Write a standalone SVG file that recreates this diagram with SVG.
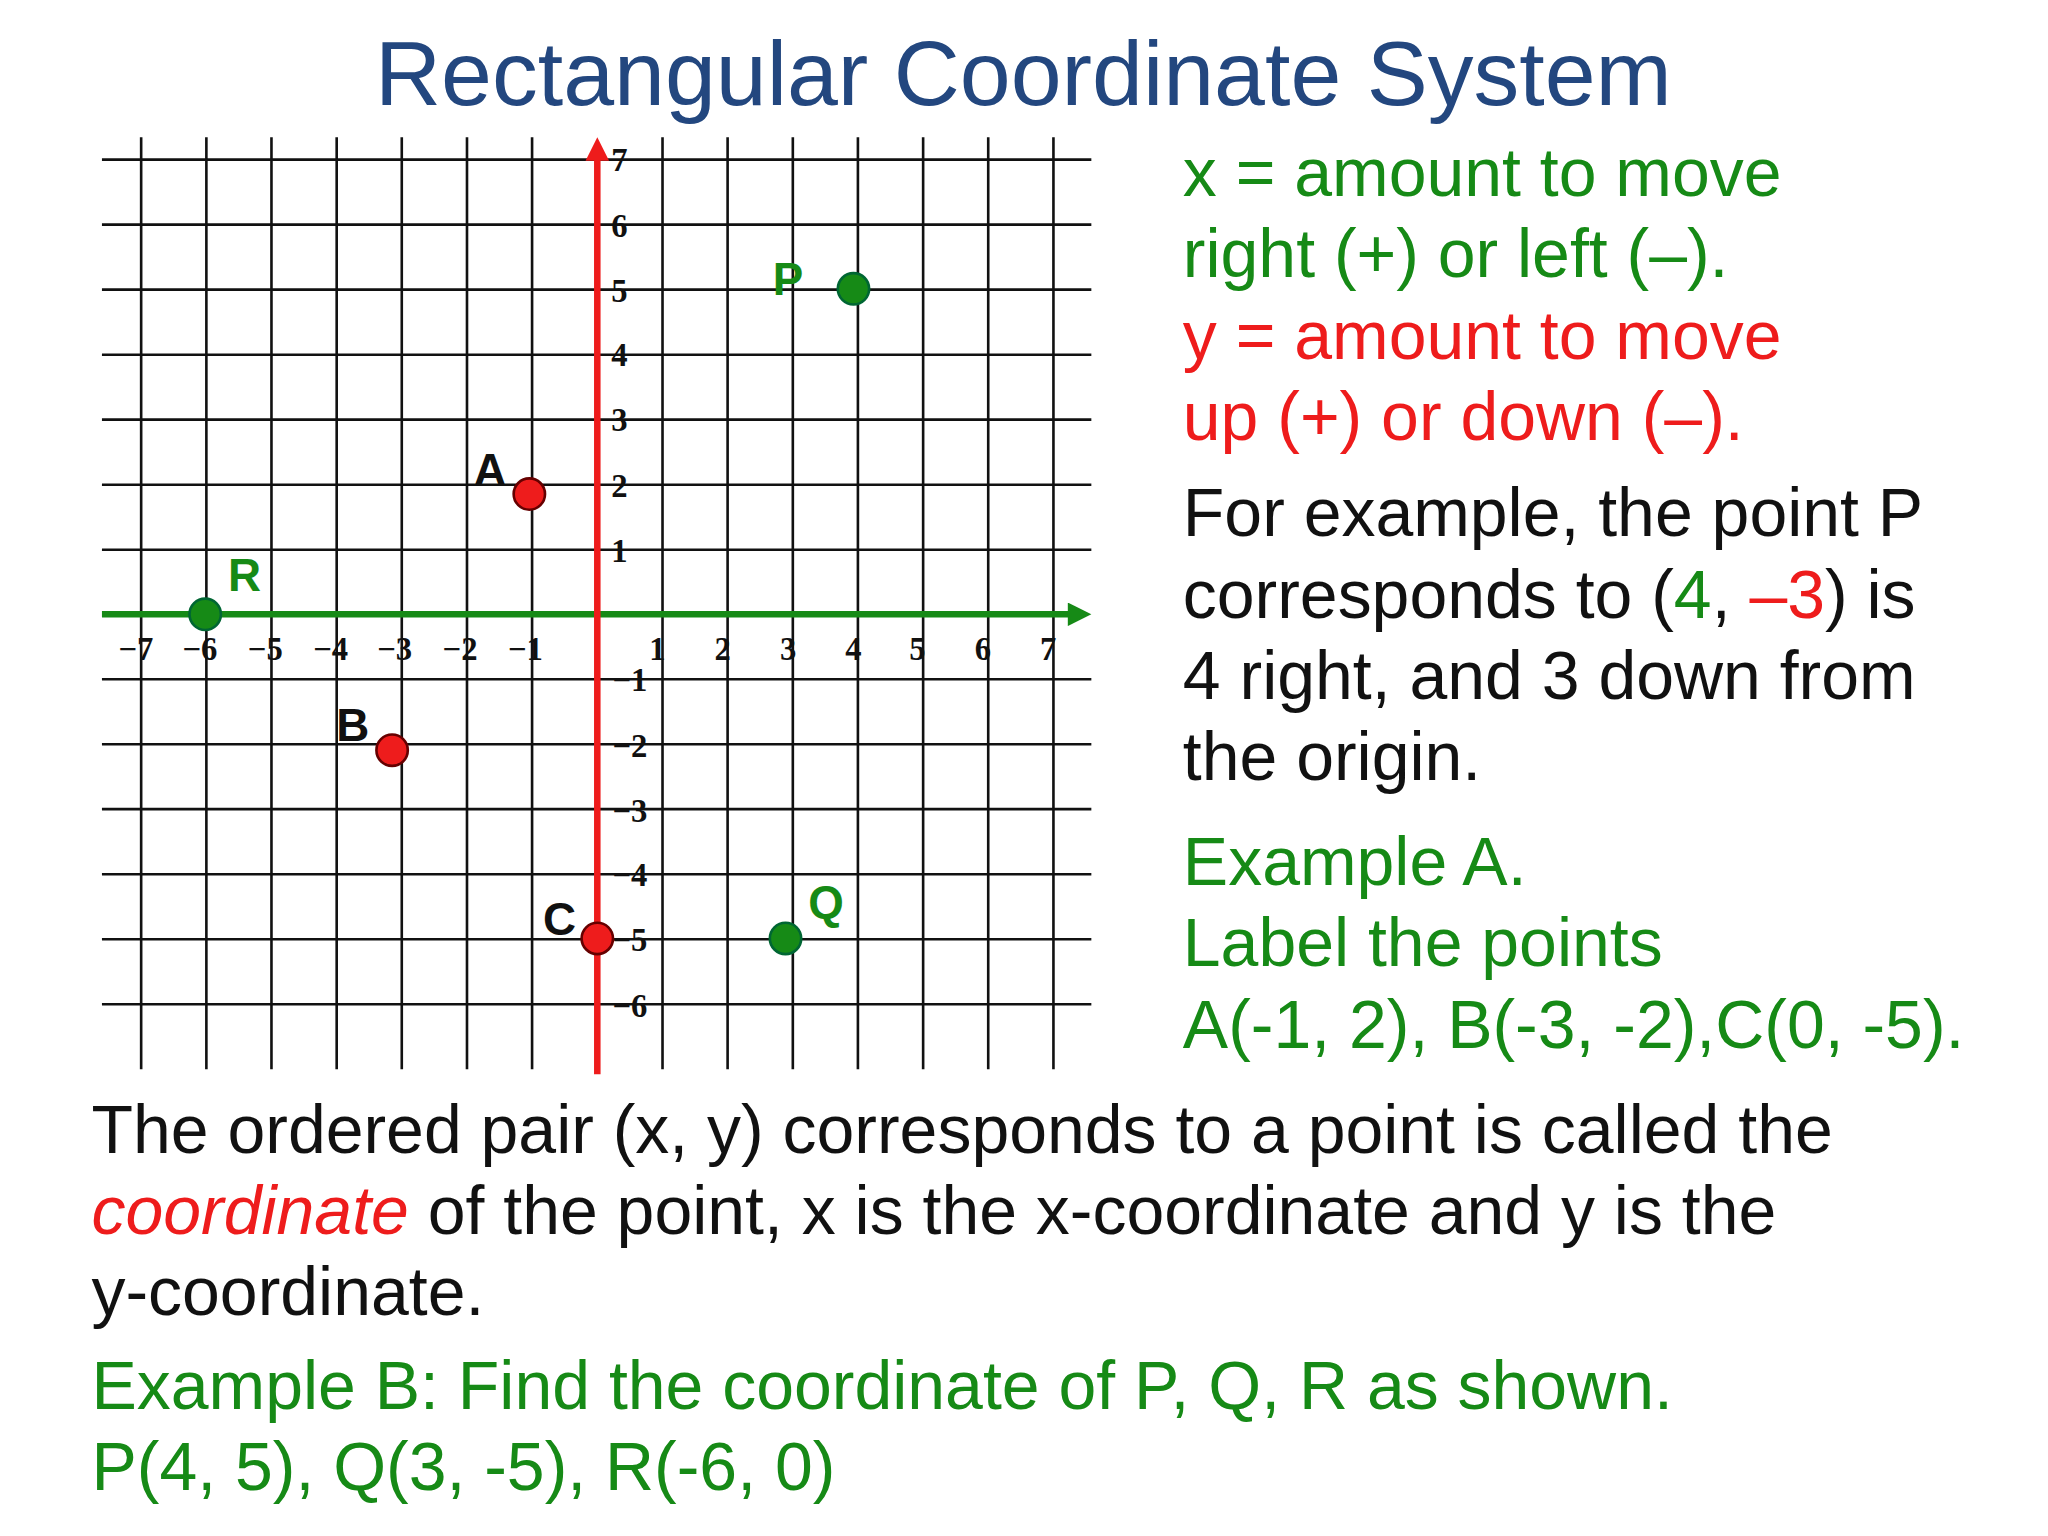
<svg xmlns="http://www.w3.org/2000/svg" width="2048" height="1536" viewBox="0 0 2048 1536">
<style>
.t{font-family:"Liberation Sans",Arial,sans-serif}
.g{fill:#168a16}.r{fill:#ee1c1c}.k{fill:#111}
.grid line{stroke:#111;stroke-width:2}
.tick{font-family:"Liberation Serif",serif;font-weight:bold;font-size:25px;fill:#111;text-anchor:middle}
.lbl{font-family:"Liberation Sans",Arial,sans-serif;font-weight:bold;font-size:35px}
.body{font-size:52px}
</style>
<defs>
<marker id="arR" viewBox="0 0 10 10" refX="5" refY="5" markerWidth="18" markerHeight="20" orient="auto" markerUnits="userSpaceOnUse"><path d="M0,0 L10,5 L0,10z" fill="#ee1c1c"/></marker>
<marker id="arG" viewBox="0 0 10 10" refX="5" refY="5" markerWidth="20" markerHeight="18" orient="auto" markerUnits="userSpaceOnUse"><path d="M0,0 L10,5 L0,10z" fill="#168a16"/></marker>
</defs>
<rect width="2048" height="1536" fill="#fff"/>
<g transform="scale(1.307)">
<text class="t" x="783" y="80" font-size="70" fill="#23477f" text-anchor="middle">Rectangular Coordinate System</text>
<g class="grid">
<line x1="108.0" y1="105" x2="108.0" y2="818"/><line x1="157.9" y1="105" x2="157.9" y2="818"/><line x1="207.7" y1="105" x2="207.7" y2="818"/><line x1="257.6" y1="105" x2="257.6" y2="818"/><line x1="307.4" y1="105" x2="307.4" y2="818"/><line x1="357.3" y1="105" x2="357.3" y2="818"/><line x1="407.1" y1="105" x2="407.1" y2="818"/>
<line x1="506.9" y1="105" x2="506.9" y2="818"/><line x1="556.7" y1="105" x2="556.7" y2="818"/><line x1="606.6" y1="105" x2="606.6" y2="818"/><line x1="656.4" y1="105" x2="656.4" y2="818"/><line x1="706.3" y1="105" x2="706.3" y2="818"/><line x1="756.1" y1="105" x2="756.1" y2="818"/><line x1="806.0" y1="105" x2="806.0" y2="818"/>
<line x1="78" y1="122.1" x2="835" y2="122.1"/><line x1="78" y1="171.9" x2="835" y2="171.9"/><line x1="78" y1="221.6" x2="835" y2="221.6"/><line x1="78" y1="271.4" x2="835" y2="271.4"/><line x1="78" y1="321.1" x2="835" y2="321.1"/><line x1="78" y1="370.9" x2="835" y2="370.9"/><line x1="78" y1="420.6" x2="835" y2="420.6"/>
<line x1="78" y1="519.7" x2="835" y2="519.7"/><line x1="78" y1="569.4" x2="835" y2="569.4"/><line x1="78" y1="619.1" x2="835" y2="619.1"/><line x1="78" y1="668.9" x2="835" y2="668.9"/><line x1="78" y1="718.6" x2="835" y2="718.6"/><line x1="78" y1="768.4" x2="835" y2="768.4"/>
</g>
<g id="axes">
<line x1="78" y1="470" x2="826" y2="470" stroke="#168a16" stroke-width="5" marker-end="url(#arG)"/>
<line x1="457" y1="822" x2="457" y2="114" stroke="#ee1c1c" stroke-width="5" marker-end="url(#arR)"/>
</g>
<g id="ticks">
<text class="tick" x="104" y="505">−7</text><text class="tick" x="153" y="505">−6</text><text class="tick" x="203" y="505">−5</text><text class="tick" x="253" y="505">−4</text><text class="tick" x="302" y="505">−3</text><text class="tick" x="352" y="505">−2</text><text class="tick" x="402" y="505">−1</text>
<text class="tick" x="503" y="505">1</text><text class="tick" x="553" y="505">2</text><text class="tick" x="603" y="505">3</text><text class="tick" x="653" y="505">4</text><text class="tick" x="702" y="505">5</text><text class="tick" x="752" y="505">6</text><text class="tick" x="802" y="505">7</text>
<text class="tick" x="474" y="131">7</text><text class="tick" x="474" y="181">6</text><text class="tick" x="474" y="231">5</text><text class="tick" x="474" y="280">4</text><text class="tick" x="474" y="330">3</text><text class="tick" x="474" y="380">2</text><text class="tick" x="474" y="430">1</text>
<text class="tick" x="482" y="529">−1</text><text class="tick" x="482" y="579">−2</text><text class="tick" x="482" y="629">−3</text><text class="tick" x="482" y="678">−4</text><text class="tick" x="482" y="728">−5</text><text class="tick" x="482" y="778">−6</text>
</g>
<g id="P"><circle cx="653" cy="221" r="12" fill="#168a16" stroke="#063" stroke-width="2"/><text class="lbl g" x="603" y="226" text-anchor="middle">P</text></g>
<g id="A"><circle cx="405" cy="378" r="12" fill="#ee1c1c" stroke="#600" stroke-width="2"/><text class="lbl k" x="375" y="372" text-anchor="middle">A</text></g>
<g id="R"><circle cx="157" cy="470" r="12" fill="#168a16" stroke="#063" stroke-width="2"/><text class="lbl g" x="187" y="452" text-anchor="middle">R</text></g>
<g id="B"><circle cx="300" cy="574" r="12" fill="#ee1c1c" stroke="#600" stroke-width="2"/><text class="lbl k" x="270" y="567" text-anchor="middle">B</text></g>
<g id="C"><circle cx="457" cy="718" r="12" fill="#ee1c1c" stroke="#600" stroke-width="2"/><text class="lbl k" x="428" y="715" text-anchor="middle">C</text></g>
<g id="Q"><circle cx="601" cy="718" r="12" fill="#168a16" stroke="#063" stroke-width="2"/><text class="lbl g" x="632" y="702" text-anchor="middle">Q</text></g>
<g class="t body">
<text x="905" y="150" class="g">x = amount to move</text>
<text x="905" y="212" class="g">right (+) or left (–).</text>
<text x="905" y="275" class="r">y = amount to move</text>
<text x="905" y="337" class="r">up (+) or down (–).</text>
<text x="905" y="410" class="k">For example, the point P</text>
<text x="905" y="473" class="k">corresponds to (<tspan class="g">4</tspan>, <tspan class="r">–3</tspan>) is</text>
<text x="905" y="535" class="k">4 right, and 3 down from</text>
<text x="905" y="597" class="k">the origin.</text>
<text x="905" y="677" class="g">Example A.</text>
<text x="905" y="739" class="g">Label the points</text>
<text x="905" y="802" class="g">A(-1, 2), B(-3, -2),C(0, -5).</text>
<text x="70" y="882" class="k">The ordered pair (x, y) corresponds to a point is called the</text>
<text x="70" y="944" class="k"><tspan class="r" font-style="italic">coordinate</tspan> of the point, x is the x-coordinate and y is the</text>
<text x="70" y="1006" class="k">y-coordinate.</text>
<text x="70" y="1078" class="g">Example B: Find the coordinate of P, Q, R as shown.</text>
<text x="70" y="1140" class="g">P(4, 5), Q(3, -5), R(-6, 0)</text>
</g>
</g>
</svg>
